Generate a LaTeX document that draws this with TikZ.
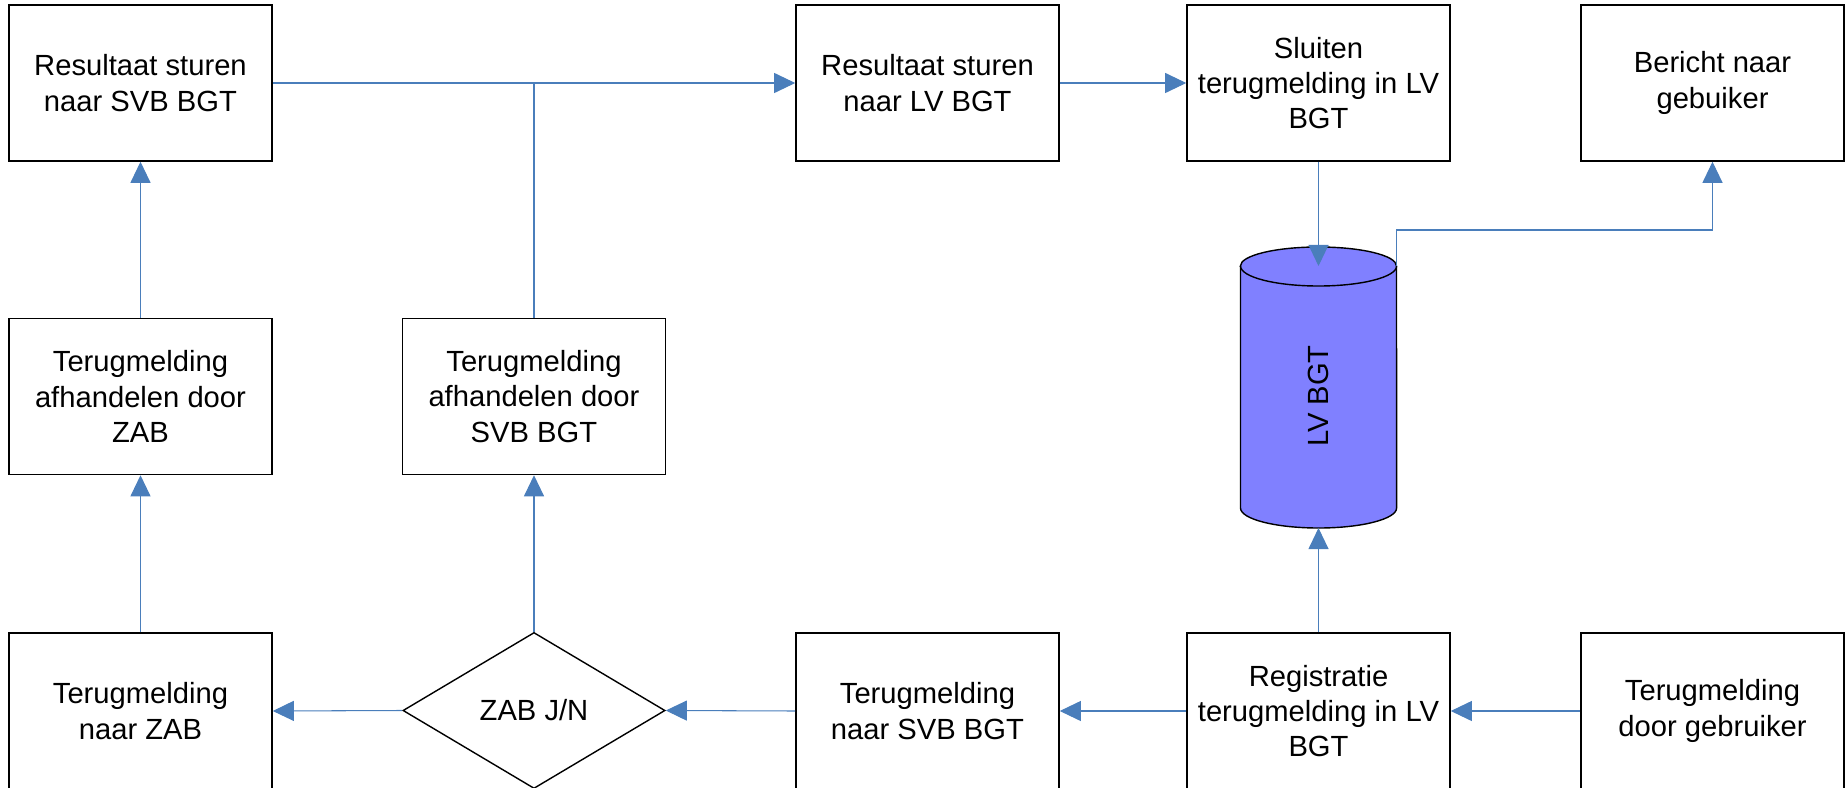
\documentclass[tikz,border=0pt]{standalone}
\usepackage{fontspec}
\setmainfont{Liberation Sans}
\usetikzlibrary{arrows.meta,shapes.geometric}
\definecolor{connc}{RGB}{74,126,187}
\definecolor{cylfill}{RGB}{128,128,255}
\begin{document}
\begin{tikzpicture}[x=0.01cm,y=-0.01cm,
  font=\fontsize{8.3}{10}\selectfont,
  box/.style={draw=black, line width=0.4pt, fill=white, minimum width=2.63cm, minimum height=1.56cm, align=center, inner sep=0pt},
  dec/.style={draw=black, line width=0.4pt, fill=white, diamond, minimum width=2.62cm, minimum height=1.56cm, inner sep=0pt, align=center},
  conn/.style={draw=connc, line width=0.3pt, -{Triangle[length=6pt,width=5.7pt]}},
  link/.style={draw=connc, line width=0.3pt}]
\clip (0,0) rectangle (1845,788);
% row 1
\node[box] (rs) at (140.5,83) {Resultaat sturen\\naar SVB BGT};
\node[box] (rl) at (927.5,83) {Resultaat sturen\\naar LV BGT};
\node[box] (sl) at (1318.5,83) {Sluiten\\terugmelding in LV\\BGT};
\node[box] (ber) at (1712.5,83) {Bericht naar\\gebuiker};
% row 2
\node[box] (azab) at (140.5,396.5) {Terugmelding\\afhandelen door\\ZAB};
\node[box] (asvb) at (534,396.5) {Terugmelding\\afhandelen door\\SVB BGT};
% row 3
\node[box] (nzab) at (140.5,711) {Terugmelding\\naar ZAB};
\node[dec] (zabjn) at (534,710.5) {ZAB J/N};
\node[box] (nsvb) at (927.5,711) {Terugmelding\\naar SVB BGT};
\node[box] (reg) at (1318.5,711) {Registratie\\terugmelding in LV\\BGT};
\node[box] (gebr) at (1712.5,711) {Terugmelding\\door gebruiker};
% cylinder
\coordinate (dbtop) at (1318.5,266);
\coordinate (dbbot) at (1318.5,528);
\coordinate (dbright) at (1396.5,266);
\coordinate (bend) at (1396.5,230);
\filldraw[fill=cylfill, draw=black, line width=0.4pt] (1240.5,266) -- (1240.5,508)
  arc[start angle=180,end angle=360,x radius=0.78cm,y radius=0.2cm] -- (1396.5,266)
  arc[start angle=0,end angle=180,x radius=0.78cm,y radius=0.19cm] -- cycle;
\draw[line width=0.4pt] (1240.5,266) arc[start angle=180,end angle=360,x radius=0.78cm,y radius=0.2cm];
\node[rotate=90] (dblabel) at (1318.5,396) {LV BGT};
% connectors
\draw[conn] (gebr.west) -- (reg.east);
\draw[conn] (reg.west) -- (nsvb.east);
\draw[conn] (nsvb.west) -- (zabjn.east);
\draw[conn] (zabjn.west) -- (nzab.east);
\draw[conn] (zabjn.north) -- (asvb.south);
\draw[conn] (nzab.north) -- (azab.south);
\draw[conn] (azab.north) -- (rs.south);
\draw[conn] (rs.east) -- (rl.west);
\draw[link] (asvb.north) -- (asvb.north |- rs.east);
\draw[conn] (rl.east) -- (sl.west);
\draw[conn] (sl.south) -- (dbtop);
\draw[conn] (reg.north) -- (dbbot);
\draw[conn] (dbright) -- (bend) -| (ber.south);
\end{tikzpicture}
\end{document}
